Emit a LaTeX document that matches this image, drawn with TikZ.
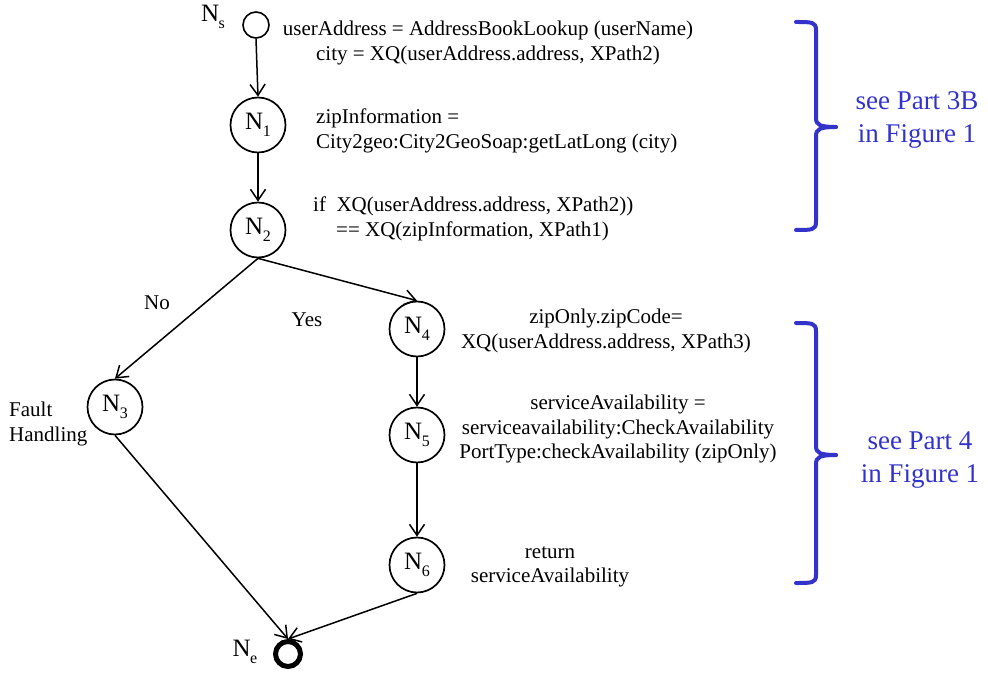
\documentclass[tikz,border=0pt]{standalone}
\usepackage{fontspec}
\setmainfont{Liberation Serif}
\usetikzlibrary{arrows.meta}
\definecolor{partblue}{RGB}{51,51,204}
\tikzset{
 state/.style={circle, draw, line width=1.7pt, minimum size=55pt, inner sep=0pt, font=\fontsize{25}{25}\selectfont},
 startst/.style={circle, draw, line width=1.6pt, minimum size=26pt, inner sep=0pt},
 endst/.style={circle, draw, line width=5pt, minimum size=25pt, inner sep=0pt},
 code/.style={inner sep=0pt, font=\fontsize{21}{24.5}\selectfont},
 lbl/.style={inner sep=0pt, font=\fontsize{25}{25}\selectfont},
 flow/.style={line width=1.5pt, -{Straight Barb[length=11pt,width=15pt]}},
 bracepath/.style={draw=partblue, line width=4pt, line cap=round, line join=round},
 note/.style={inner sep=0pt, text=partblue, align=center, font=\fontsize{27}{33}\selectfont},
}
\newcommand\Nsb[1]{N\kern-0.5pt\raisebox{-7pt}{\fontsize{16}{16}\selectfont #1}}
\begin{document}
\begin{tikzpicture}[x=1pt,y=-1pt]
\useasboundingbox (0,0) rectangle (988,676);
% states
\node[startst] (ns) at (256,25) {};
\node[state] (n1) at (258,125) {\Nsb{1}};
\node[state] (n2) at (258,230) {\Nsb{2}};
\node[state] (n3) at (115,407) {\Nsb{3}};
\node[state] (n4) at (417,329) {\Nsb{4}};
\node[state] (n5) at (417,435) {\Nsb{5}};
\node[state] (n6) at (417,565) {\Nsb{6}};
\node[endst] (ne) at (288,654) {};
% state labels
\node[lbl] (lns) at (213,17) {\Nsb{s}};
\node[lbl] (lne) at (245,652) {\Nsb{e}};
% edges
\draw[flow] (ns.south) -- (n1.north);
\draw[flow] (n1.south) -- (n2.north);
\draw[flow] (n2.south) -- (n3.north);
\draw[flow] (n2.south) -- (n4.north);
\draw[flow] (n4.south) -- (n5.north);
\draw[flow] (n5.south) -- (n6.north);
\draw[flow] (n3.south) -- (ne.north);
\draw[flow] (n6.south) -- (ne.north);
% edge labels
\node[code] (lno) at (157,303) {No};
\node[code] (lyes) at (307,320) {Yes};
% code texts
\node[code, align=center] (ta) at (488,43) {userAddress = AddressBookLookup (userName)\\city = XQ(userAddress.address, XPath2)};
\node[code, align=left, anchor=west] (tb) at (316,131) {zipInformation =\\City2geo:City2GeoSoap:getLatLong (city)};
\node[code, align=left, anchor=west] (tc) at (313,219) {if\ \ XQ(userAddress.address, XPath2))\\\hspace*{23pt}== XQ(zipInformation, XPath1)};
\node[code, align=center] (td) at (606,331) {zipOnly.zipCode=\\XQ(userAddress.address, XPath3)};
\node[code, align=center] (te) at (618,429) {serviceAvailability =\\serviceavailability:CheckAvailability\\PortType:checkAvailability (zipOnly)};
\node[code, align=center] (tf) at (550,567) {return\\serviceAvailability};
\node[code, align=left, anchor=west] (tg) at (9,424) {Fault\\Handling};
% braces
\draw[bracepath] (796,22) .. controls (812,22) and (816,22) .. (816,30) -- (816,118) .. controls (816,125) and (820,127) .. (836,127);
\draw[bracepath] (836,127) .. controls (820,127) and (816,129) .. (816,136) -- (816,222) .. controls (816,230) and (812,230) .. (796,230);
\draw[bracepath] (796,323) .. controls (812,323) and (816,323) .. (816,331) -- (816,446) .. controls (816,453) and (820,455) .. (836,455);
\draw[bracepath] (836,455) .. controls (820,455) and (816,457) .. (816,464) -- (816,575) .. controls (816,583) and (812,583) .. (796,583);
\node[note] (p3) at (917,120) {see Part 3B\\in Figure 1};
\node[note] (p4) at (920,460) {see Part 4\\in Figure 1};
\end{tikzpicture}
\end{document}
